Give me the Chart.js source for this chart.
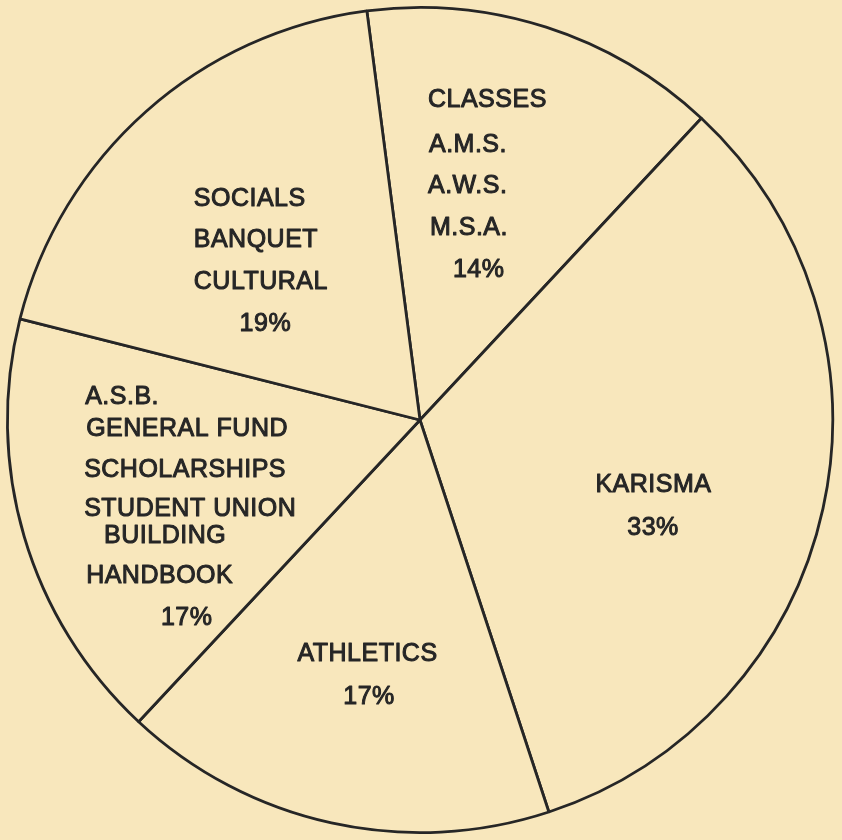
<!DOCTYPE html>
<html>
<head>
<meta charset="utf-8">
<script src="https://cdn.jsdelivr.net/npm/chart.js@4.4.1/dist/chart.umd.min.js"></script>
<style>
  html, body { margin: 0; padding: 0; background: #f8e7bc; }
  #wrap { width: 842px; height: 840px; position: relative; }
</style>
</head>
<body>
<div id="wrap"><canvas id="budgetPie"></canvas></div>
<script>
// slices, clockwise from the top
var categories = ['CLASSES', 'KARISMA', 'ATHLETICS', 'A.S.B.', 'SOCIALS'];
var subItems = [
    ['A.M.S.', 'A.W.S.', 'M.S.A.'],
    [],
    [],
    ['GENERAL FUND', 'SCHOLARSHIPS', 'STUDENT UNION', 'BUILDING', 'HANDBOOK'],
    ['BANQUET', 'CULTURAL']
];
var percents = [14, 33, 17, 17, 19];

var paper = '#f8e7bc';
var ink = '#262626';

// where each text block sits, offset from the pie centre (px at r=414)
var labelPos = [
    { dx: 8,    dy: -321, lineY: [0, 45, 86, 128, 171],          indent: [0, 1, 0, 2, 25] },
    { dx: 176,  dy: 65,   lineY: [0, 43],                        indent: [0, 32] },
    { dx: -123, dy: 235,  lineY: [0, 43],                        indent: [0, 46] },
    { dx: -336, dy: -23,  lineY: [0, 32, 73, 112, 140, 180, 222], indent: [0, 1, -1, -1, 19, 1, 76] },
    { dx: -227, dy: -222, lineY: [0, 42, 84, 126],               indent: [0, 0, 0, 46] }
];

var paperBg = {
    id: 'paperBg',
    beforeDraw: function (chart) {
        var c = chart.ctx;
        c.save();
        c.fillStyle = paper;
        c.fillRect(0, 0, chart.width, chart.height);
        c.restore();
    }
};

var sliceText = {
    id: 'sliceText',
    afterDatasetsDraw: function (chart) {
        var c = chart.ctx;
        var arc = chart.getDatasetMeta(0).data[0];
        var cx = arc.x, cy = arc.y, k = arc.outerRadius / 414;
        c.save();
        c.fillStyle = ink;
        c.strokeStyle = ink;
        c.lineWidth = 1;
        c.lineJoin = 'round';
        c.font = '25px "Liberation Sans", Arial, sans-serif';
        c.letterSpacing = '0.5px';
        c.textAlign = 'left';
        c.textBaseline = 'middle';
        for (var i = 0; i < categories.length; i++) {
            var lines = [categories[i]].concat(subItems[i]).concat([percents[i] + '%']);
            var p = labelPos[i];
            for (var j = 0; j < lines.length; j++) {
                var x = cx + (p.dx + p.indent[j]) * k;
                var y = cy + (p.dy + p.lineY[j]) * k;
                c.fillText(lines[j], x, y);
                c.strokeText(lines[j], x, y);
            }
        }
        c.restore();
    }
};

new Chart(document.getElementById('budgetPie'), {
    type: 'pie',
    data: {
        labels: categories,
        datasets: [{
            data: percents,
            backgroundColor: paper,
            borderColor: ink,
            borderWidth: 2.8,
            hoverOffset: 0
        }]
    },
    options: {
        responsive: true,
        maintainAspectRatio: false,
        animation: false,
        rotation: -7.4,
        layout: { padding: { left: 6, right: 8, top: 5, bottom: 5 } },
        plugins: {
            legend: { display: false },
            tooltip: { enabled: false }
        }
    },
    plugins: [paperBg, sliceText]
});
</script>
</body>
</html>
